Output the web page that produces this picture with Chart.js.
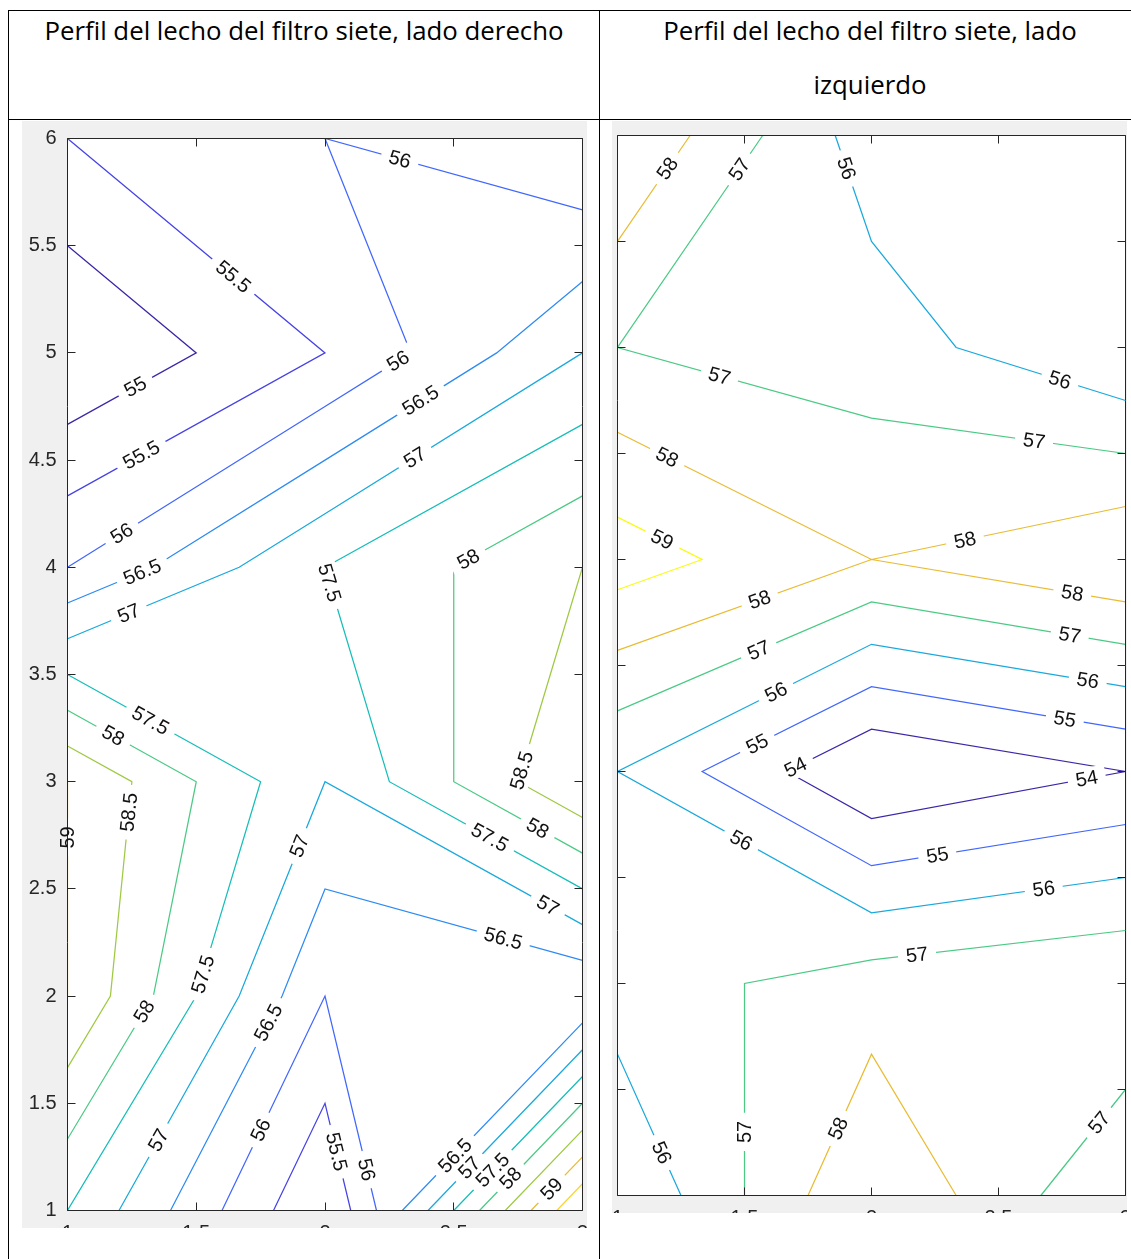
<!DOCTYPE html>
<html>
<head>
<meta charset="utf-8">
<script src="https://cdn.jsdelivr.net/npm/chart.js@4.4.0/dist/chart.umd.min.js"></script>
<style>
  body { margin: 0; background: #fff; width: 1131px; height: 1259px; overflow: hidden; position: relative; }
  .rule { position: absolute; background: #000; }
  .head { position: absolute; text-align: center; font-family: 'Open Sans', sans-serif; font-size: 25.8px; line-height: 54px; color: #000; }
  .fig { position: absolute; background: #f0f0f0; overflow: hidden; }
  .fig canvas { position: absolute; left: 0; top: 0; }
</style>
</head>
<body>
<div class="rule" style="left:8px;top:10px;width:1123px;height:1px"></div>
<div class="rule" style="left:8px;top:119px;width:1123px;height:1px"></div>
<div class="rule" style="left:8px;top:10px;width:1px;height:1249px"></div>
<div class="rule" style="left:599px;top:10px;width:1px;height:1249px"></div>

<div class="head" style="left:9px;top:3px;width:590px">Perfil del lecho del filtro siete, lado derecho</div>
<div class="head" style="left:600px;top:3px;width:540px">Perfil del lecho del filtro siete, lado<br>izquierdo</div>

<div class="fig" style="left:22px;top:121px;width:565px;height:1107px">
  <canvas id="derecho" width="565" height="1129" style="width:565px;height:1129px"></canvas>
</div>
<div class="fig" style="left:612px;top:121px;width:515px;height:1092px">
  <canvas id="izquierdo" width="515" height="1114" style="width:515px;height:1114px"></canvas>
</div>

<script>
// measurement grid: columns along x, rows along y
const xCols = [1, 2, 3];
const yRows = [1, 2, 3, 4, 5, 6];

// bed level, right side (one row per y, one value per x)
const derechoZ = [
  [57.5, 55, 60],
  [59, 56, 56],
  [59, 57, 59],
  [56, 57.5, 58.5],
  [54.5, 55.5, 57],
  [55.5, 56, 55.5]
];
const derechoLevels = [55, 55.5, 56, 56.5, 57, 57.5, 58, 58.5, 59, 59.5, 60];

// bed level, left side
const izquierdoZ = [
  [55, 59, 56],
  [56.5, 57.5, 58],
  [56, 53, 54],
  [59.5, 58, 59],
  [57, 56.5, 55],
  [59, 55.5, 55.3]
];
const izquierdoLevels = [54, 55, 56, 57, 58, 59];

const xTickVals = [1, 1.5, 2, 2.5, 3];
const yTickVals = [1, 1.5, 2, 2.5, 3, 3.5, 4, 4.5, 5, 5.5, 6];

// where the inline level labels go: [level, x, y]
const derechoSpots = [
  [55.5, 1.64, 5.35], [56, 2.29, 5.90], [55, 1.26, 4.85], [56, 2.28, 4.97],
  [56.5, 2.37, 4.78], [55.5, 1.28, 4.54], [57, 2.35, 4.51], [56, 1.21, 4.16],
  [56.5, 1.29, 3.98], [58, 2.56, 4.03], [57.5, 2.05, 3.94], [57, 1.24, 3.78],
  [57.5, 1.32, 3.28], [58, 1.17, 3.20], [58.5, 1.22, 2.86], [59, 1.0, 2.74],
  [58.5, 2.77, 3.05], [57.5, 2.64, 2.74], [58, 2.82, 2.77], [57, 1.90, 2.70],
  [57, 2.86, 2.41], [56.5, 2.69, 2.26], [57.5, 1.53, 2.10], [58, 1.31, 1.92],
  [56.5, 1.79, 1.87], [57, 1.35, 1.33], [56, 1.76, 1.37], [55.5, 2.03, 1.27],
  [56, 2.16, 1.19], [56.5, 2.51, 1.25], [57, 2.56, 1.20], [57.5, 2.65, 1.19],
  [58, 2.73, 1.14], [59, 2.88, 1.10]
];
const izquierdoSpots = [
  [58, 1.19, 5.85], [57, 1.48, 5.84], [56, 1.89, 5.84], [57, 1.40, 4.86],
  [58, 1.19, 4.47], [56, 2.74, 4.84], [57, 2.64, 4.56], [59, 1.17, 4.08],
  [58, 1.56, 3.81], [57, 1.56, 3.56], [56, 1.63, 3.36], [55, 1.55, 3.13],
  [54, 1.71, 3.0], [56, 1.48, 2.66], [58, 2.37, 4.08], [58, 2.79, 3.84],
  [57, 2.78, 3.64], [56, 2.85, 3.42], [55, 2.76, 3.24], [54, 2.85, 2.95],
  [55, 2.26, 2.60], [56, 2.68, 2.43], [57, 2.18, 2.13], [57, 2.90, 1.34],
  [57, 1.50, 1.30], [58, 1.88, 1.31], [56, 1.17, 1.20]
];

// parula, every fourth row of the 64-row map (last stop is row 63)
const parulaStops = [
  [0.2422, 0.1504, 0.6603], [0.2706, 0.2147, 0.8364], [0.2813, 0.3006, 0.9414], [0.2699, 0.3892, 0.9906],
  [0.1963, 0.4847, 0.9892], [0.1687, 0.5703, 0.9359], [0.1248, 0.6459, 0.8883], [0.0297, 0.7082, 0.8163],
  [0.0964, 0.7500, 0.7120], [0.2161, 0.7843, 0.5923], [0.3909, 0.8029, 0.4354], [0.6174, 0.7876, 0.2612],
  [0.8203, 0.7498, 0.1535], [0.9728, 0.7298, 0.2394], [0.9892, 0.8136, 0.1885], [0.9597, 0.9135, 0.1423],
  [0.9769, 0.9839, 0.0805]
];

function parula(t) {
  const row = Math.max(0, Math.min(1, t)) * 63;
  const pos = parulaStops.map((_, k) => Math.min(4 * k, 63));
  let k = 0;
  while (k < pos.length - 2 && row > pos[k + 1]) k++;
  const f = (row - pos[k]) / (pos[k + 1] - pos[k]);
  const c = parulaStops[k].map((v, i) => Math.round(255 * (v + f * (parulaStops[k + 1][i] - v))));
  return 'rgb(' + c.join(',') + ')';
}

const axisColor = '#262626';
const tickLen = 8;
const labelFont = "20px 'Liberation Sans'";
const labelGap = 8;

Chart.defaults.font.family = "'Liberation Sans', Arial, sans-serif";

// marching squares over the grid, one level at a time
function traceLevel(z, level) {
  const segs = [];
  for (let j = 0; j < yRows.length - 1; j++) {
    for (let i = 0; i < xCols.length - 1; i++) {
      const c = [
        [xCols[i], yRows[j], z[j][i]],
        [xCols[i + 1], yRows[j], z[j][i + 1]],
        [xCols[i + 1], yRows[j + 1], z[j + 1][i + 1]],
        [xCols[i], yRows[j + 1], z[j + 1][i]]
      ];
      const up = c.map(p => p[2] >= level);
      // edge k runs from corner k to corner k+1
      const cross = [null, null, null, null];
      for (let k = 0; k < 4; k++) {
        const a = c[k], b = c[(k + 1) % 4];
        if (up[k] !== up[(k + 1) % 4]) {
          const t = (level - a[2]) / (b[2] - a[2]);
          cross[k] = { x: a[0] + t * (b[0] - a[0]), y: a[1] + t * (b[1] - a[1]) };
        }
      }
      const hits = [0, 1, 2, 3].filter(k => cross[k]);
      if (hits.length === 2) {
        segs.push([cross[hits[0]], cross[hits[1]]]);
      } else if (hits.length === 4) {
        const centreUp = (c[0][2] + c[1][2] + c[2][2] + c[3][2]) / 4 >= level;
        for (let k = 0; k < 4; k++) {
          if (up[k] !== centreUp) segs.push([cross[(k + 3) % 4], cross[k]]);
        }
      }
    }
  }
  return segs.filter(([p, q]) => Math.hypot(p.x - q.x, p.y - q.y) > 1e-9);
}

function joinSegments(segs) {
  const key = p => p.x.toFixed(6) + ',' + p.y.toFixed(6);
  const rest = segs.slice();
  const lines = [];
  while (rest.length) {
    const line = rest.pop().slice();
    let grown = true;
    while (grown) {
      grown = false;
      for (let s = 0; s < rest.length; s++) {
        const [a, b] = rest[s];
        const head = key(line[0]), tail = key(line[line.length - 1]);
        if (key(a) === tail) line.push(b);
        else if (key(b) === tail) line.push(a);
        else if (key(b) === head) line.unshift(a);
        else if (key(a) === head) line.unshift(b);
        else continue;
        rest.splice(s, 1);
        grown = true;
        break;
      }
    }
    lines.push(line);
  }
  return lines;
}

// white plot area, then box with inward ticks on all four sides
const axesBox = {
  id: 'axesBox',
  beforeDatasetsDraw(chart) {
    const { ctx, chartArea: a } = chart;
    ctx.save();
    ctx.fillStyle = '#fff';
    ctx.fillRect(a.left, a.top, a.right - a.left, a.bottom - a.top);
    ctx.restore();
  },
  afterDatasetsDraw(chart) {
    const { ctx, chartArea: a, scales: { x, y } } = chart;
    ctx.save();
    ctx.strokeStyle = axisColor;
    ctx.lineWidth = 1;
    ctx.beginPath();
    ctx.rect(a.left, a.top, a.right - a.left, a.bottom - a.top);
    x.ticks.forEach(t => {
      const p = Math.round(x.getPixelForValue(t.value) - 0.5) + 0.5;
      ctx.moveTo(p, a.bottom); ctx.lineTo(p, a.bottom - tickLen);
      ctx.moveTo(p, a.top); ctx.lineTo(p, a.top + tickLen);
    });
    y.ticks.forEach(t => {
      const p = Math.round(y.getPixelForValue(t.value) - 0.5) + 0.5;
      ctx.moveTo(a.left, p); ctx.lineTo(a.left + tickLen, p);
      ctx.moveTo(a.right, p); ctx.lineTo(a.right - tickLen, p);
    });
    ctx.stroke();
    ctx.restore();
  }
};

// level labels sitting on their own line, with the line broken under them
const contourLabels = {
  id: 'contourLabels',
  beforeDatasetsDraw(chart, args, opts) {
    const { ctx, scales: { x: sx, y: sy } } = chart;
    ctx.save();
    ctx.font = labelFont;
    chart.$labels = opts.spots.map(([level, x, y]) => {
      const ds = chart.data.datasets.find(d => d.level === level);
      const px = sx.getPixelForValue(x), py = sy.getPixelForValue(y);
      let best = null;
      ds.lines.forEach(line => {
        for (let i = 0; i < line.length - 1; i++) {
          const ax = sx.getPixelForValue(line[i].x), ay = sy.getPixelForValue(line[i].y);
          const bx = sx.getPixelForValue(line[i + 1].x), by = sy.getPixelForValue(line[i + 1].y);
          const dx = bx - ax, dy = by - ay, len2 = dx * dx + dy * dy;
          const t = Math.max(0, Math.min(1, ((px - ax) * dx + (py - ay) * dy) / len2));
          const qx = ax + t * dx, qy = ay + t * dy;
          const d = (qx - px) ** 2 + (qy - py) ** 2;
          if (!best || d < best.d) best = { d, x: qx, y: qy, ang: Math.atan2(dy, dx) };
        }
      });
      let ang = best.ang;
      if (ang >= Math.PI / 2 - 1e-6) ang -= Math.PI;
      else if (ang < -Math.PI / 2 - 1e-6) ang += Math.PI;
      const text = String(level);
      return { level, text, x: best.x, y: best.y, ang, w: ctx.measureText(text).width };
    });
    ctx.restore();
  },
  beforeDatasetDraw(chart, args) {
    const level = chart.data.datasets[args.index].level;
    const ctx = chart.ctx;
    ctx.save();
    ctx.beginPath();
    ctx.rect(0, 0, chart.width, chart.height);
    chart.$labels.filter(l => l.level === level).forEach(l => {
      const hw = l.w / 2 + labelGap, hh = 11;
      const c = Math.cos(l.ang), s = Math.sin(l.ang);
      const pts = [[-hw, -hh], [hw, -hh], [hw, hh], [-hw, hh]]
        .map(([u, v]) => [l.x + u * c - v * s, l.y + u * s + v * c]);
      ctx.moveTo(pts[0][0], pts[0][1]);
      pts.slice(1).forEach(p => ctx.lineTo(p[0], p[1]));
      ctx.closePath();
    });
    ctx.clip('evenodd');
  },
  afterDatasetDraw(chart) {
    chart.ctx.restore();
  },
  afterDraw(chart) {
    const ctx = chart.ctx;
    ctx.save();
    ctx.font = labelFont;
    ctx.fillStyle = '#111';
    ctx.textAlign = 'center';
    ctx.textBaseline = 'middle';
    chart.$labels.forEach(l => {
      ctx.save();
      ctx.translate(l.x, l.y);
      ctx.rotate(l.ang);
      ctx.fillText(l.text, 0, 1);
      ctx.restore();
    });
    ctx.restore();
  }
};

function contourChart(id, z, levels, spots, frame) {
  const lo = levels[0], hi = levels[levels.length - 1];
  const datasets = levels.map(level => {
    const lines = joinSegments(traceLevel(z, level));
    const data = [];
    lines.forEach(line => {
      line.forEach(p => data.push({ x: p.x, y: p.y }));
      data.push({ x: null, y: null });
    });
    return {
      level, lines, data,
      borderColor: parula((level - lo) / (hi - lo)),
      borderWidth: 1.25,
      pointRadius: 0,
      pointHitRadius: 0,
      tension: 0,
      fill: false,
      spanGaps: false
    };
  });

  return new Chart(document.getElementById(id), {
    type: 'line',
    data: { datasets },
    options: {
      responsive: false,
      animation: false,
      events: [],
      layout: { padding: frame.padding, autoPadding: false },
      plugins: {
        legend: { display: false },
        tooltip: { enabled: false },
        contourLabels: { spots }
      },
      scales: {
        x: {
          type: 'linear', min: 1, max: 3,
          grid: { display: false, drawTicks: false },
          border: { display: false },
          afterBuildTicks: s => { s.ticks = xTickVals.map(v => ({ value: v })); },
          afterFit: s => { s.height = frame.xAxisHeight; s.paddingLeft = 0; s.paddingRight = 0; },
          ticks: { padding: 11, color: axisColor, font: { size: 20 }, autoSkip: false, maxRotation: 0, callback: v => String(v) }
        },
        y: {
          type: 'linear', min: 1, max: 6,
          grid: { display: false, drawTicks: false },
          border: { display: false },
          afterBuildTicks: s => { s.ticks = yTickVals.map(v => ({ value: v })); },
          afterFit: s => { s.width = frame.yAxisWidth; s.paddingTop = 0; s.paddingBottom = 0; },
          ticks: { display: frame.yLabels, padding: 11, color: axisColor, font: { size: 20 }, autoSkip: false, callback: v => String(v) }
        }
      }
    },
    plugins: [axesBox, contourLabels]
  });
}

contourChart('derecho', derechoZ, derechoLevels, derechoSpots, {
  padding: { top: 17.5, right: 4.5, bottom: 0, left: 0 },
  yAxisWidth: 45.5, xAxisHeight: 39.5, yLabels: true
});

contourChart('izquierdo', izquierdoZ, izquierdoLevels, izquierdoSpots, {
  padding: { top: 14.5, right: 1.5, bottom: 0, left: 0 },
  yAxisWidth: 5.5, xAxisHeight: 39.5, yLabels: false
});
</script>
</body>
</html>
